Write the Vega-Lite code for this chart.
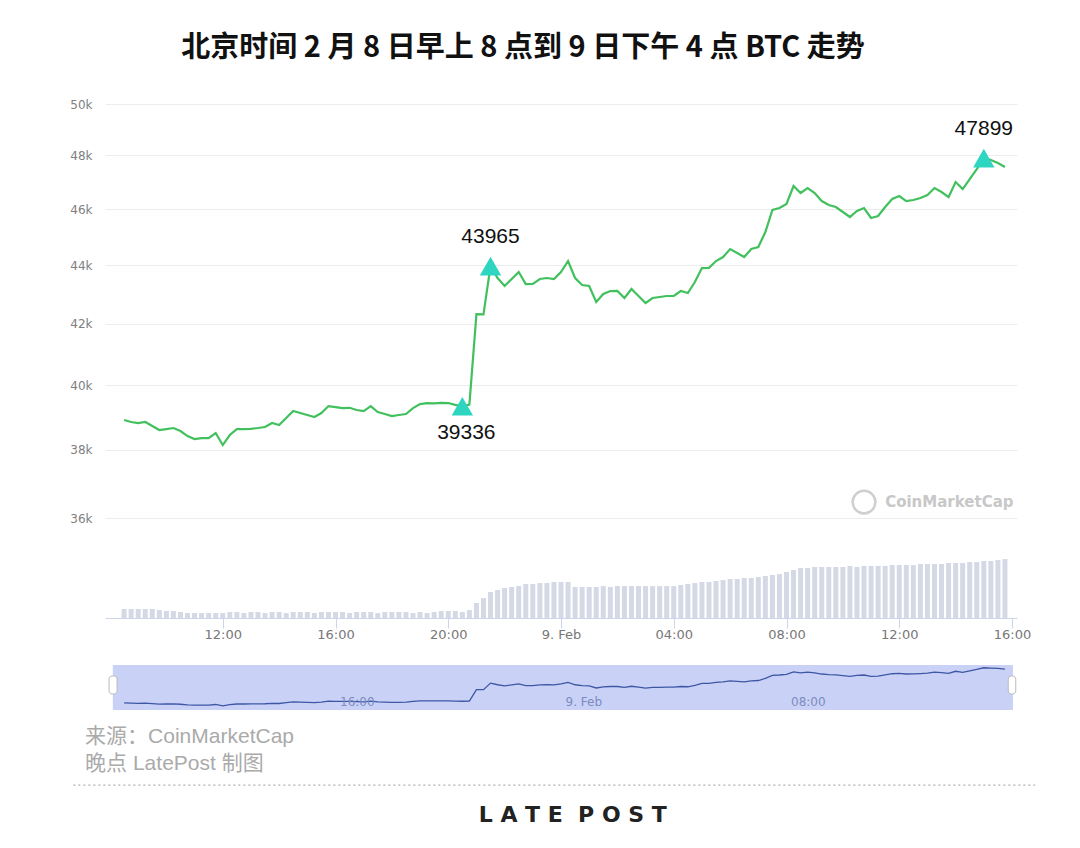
{
  "$schema": "https://vega.github.io/schema/vega-lite/v6.json",
  "width": 1080,
  "height": 848,
  "autosize": {"type": "none"},
  "padding": 0,
  "background": "white",
  "config": {"view": {"stroke": null}},
  "title": {
    "text": "北京时间 2 月 8 日早上 8 点到 9 日下午 4 点 BTC 走势",
    "anchor": "middle",
    "frame": "group",
    "offset": -57,
    "baseline": "alphabetic",
    "dx": -17,
    "dy": 29,
    "fontSize": 29,
    "font": "Noto Sans CJK SC",
    "fontWeight": "bold",
    "color": "#111111"
  },
  "datasets": {
    "btc": [
      {"t": "2021-02-08T08:30", "price": 38910, "volume": 46.0},
      {"t": "2021-02-08T08:45", "price": 38849, "volume": 46.0},
      {"t": "2021-02-08T09:00", "price": 38818, "volume": 46.0},
      {"t": "2021-02-08T09:15", "price": 38849, "volume": 46.0},
      {"t": "2021-02-08T09:30", "price": 38725, "volume": 46.0},
      {"t": "2021-02-08T09:45", "price": 38602, "volume": 45.3},
      {"t": "2021-02-08T10:00", "price": 38633, "volume": 44.7},
      {"t": "2021-02-08T10:15", "price": 38664, "volume": 44.7},
      {"t": "2021-02-08T10:30", "price": 38572, "volume": 44.0},
      {"t": "2021-02-08T10:45", "price": 38419, "volume": 43.3},
      {"t": "2021-02-08T11:00", "price": 38328, "volume": 43.3},
      {"t": "2021-02-08T11:15", "price": 38358, "volume": 43.3},
      {"t": "2021-02-08T11:30", "price": 38358, "volume": 43.3},
      {"t": "2021-02-08T11:45", "price": 38511, "volume": 43.3},
      {"t": "2021-02-08T12:00", "price": 38146, "volume": 43.3},
      {"t": "2021-02-08T12:15", "price": 38450, "volume": 44.0},
      {"t": "2021-02-08T12:30", "price": 38633, "volume": 44.0},
      {"t": "2021-02-08T12:45", "price": 38633, "volume": 43.3},
      {"t": "2021-02-08T13:00", "price": 38640, "volume": 44.0},
      {"t": "2021-02-08T13:15", "price": 38664, "volume": 44.0},
      {"t": "2021-02-08T13:30", "price": 38695, "volume": 43.3},
      {"t": "2021-02-08T13:45", "price": 38818, "volume": 44.0},
      {"t": "2021-02-08T14:00", "price": 38756, "volume": 44.0},
      {"t": "2021-02-08T14:15", "price": 38972, "volume": 43.3},
      {"t": "2021-02-08T14:30", "price": 39189, "volume": 44.0},
      {"t": "2021-02-08T14:45", "price": 39127, "volume": 44.0},
      {"t": "2021-02-08T15:00", "price": 39065, "volume": 44.0},
      {"t": "2021-02-08T15:15", "price": 39003, "volume": 43.3},
      {"t": "2021-02-08T15:30", "price": 39127, "volume": 44.0},
      {"t": "2021-02-08T15:45", "price": 39344, "volume": 44.0},
      {"t": "2021-02-08T16:00", "price": 39313, "volume": 44.0},
      {"t": "2021-02-08T16:15", "price": 39282, "volume": 44.0},
      {"t": "2021-02-08T16:30", "price": 39290, "volume": 43.3},
      {"t": "2021-02-08T16:45", "price": 39220, "volume": 44.0},
      {"t": "2021-02-08T17:00", "price": 39189, "volume": 44.0},
      {"t": "2021-02-08T17:15", "price": 39344, "volume": 44.0},
      {"t": "2021-02-08T17:30", "price": 39158, "volume": 43.3},
      {"t": "2021-02-08T17:45", "price": 39096, "volume": 44.0},
      {"t": "2021-02-08T18:00", "price": 39034, "volume": 44.0},
      {"t": "2021-02-08T18:15", "price": 39065, "volume": 44.0},
      {"t": "2021-02-08T18:30", "price": 39096, "volume": 44.0},
      {"t": "2021-02-08T18:45", "price": 39282, "volume": 43.3},
      {"t": "2021-02-08T19:00", "price": 39407, "volume": 44.0},
      {"t": "2021-02-08T19:15", "price": 39438, "volume": 43.3},
      {"t": "2021-02-08T19:30", "price": 39430, "volume": 44.0},
      {"t": "2021-02-08T19:45", "price": 39445, "volume": 44.7},
      {"t": "2021-02-08T20:00", "price": 39438, "volume": 44.7},
      {"t": "2021-02-08T20:15", "price": 39380, "volume": 44.7},
      {"t": "2021-02-08T20:30", "price": 39336, "volume": 44.0},
      {"t": "2021-02-08T20:45", "price": 39390, "volume": 45.3},
      {"t": "2021-02-08T21:00", "price": 42324, "volume": 50.0},
      {"t": "2021-02-08T21:15", "price": 42310, "volume": 53.3},
      {"t": "2021-02-08T21:30", "price": 43965, "volume": 57.3},
      {"t": "2021-02-08T21:45", "price": 43552, "volume": 58.7},
      {"t": "2021-02-08T22:00", "price": 43276, "volume": 60.0},
      {"t": "2021-02-08T22:15", "price": 43517, "volume": 60.7},
      {"t": "2021-02-08T22:30", "price": 43759, "volume": 61.3},
      {"t": "2021-02-08T22:45", "price": 43344, "volume": 62.7},
      {"t": "2021-02-08T23:00", "price": 43350, "volume": 62.7},
      {"t": "2021-02-08T23:15", "price": 43517, "volume": 63.3},
      {"t": "2021-02-08T23:30", "price": 43552, "volume": 63.3},
      {"t": "2021-02-08T23:45", "price": 43517, "volume": 64.0},
      {"t": "2021-02-09T00:00", "price": 43759, "volume": 64.0},
      {"t": "2021-02-09T00:15", "price": 44143, "volume": 64.0},
      {"t": "2021-02-09T00:30", "price": 43552, "volume": 60.7},
      {"t": "2021-02-09T00:45", "price": 43310, "volume": 60.7},
      {"t": "2021-02-09T01:00", "price": 43276, "volume": 60.7},
      {"t": "2021-02-09T01:15", "price": 42730, "volume": 60.7},
      {"t": "2021-02-09T01:30", "price": 43002, "volume": 61.3},
      {"t": "2021-02-09T01:45", "price": 43104, "volume": 60.7},
      {"t": "2021-02-09T02:00", "price": 43110, "volume": 61.3},
      {"t": "2021-02-09T02:15", "price": 42866, "volume": 61.3},
      {"t": "2021-02-09T02:30", "price": 43173, "volume": 61.3},
      {"t": "2021-02-09T02:45", "price": 42934, "volume": 61.3},
      {"t": "2021-02-09T03:00", "price": 42696, "volume": 61.3},
      {"t": "2021-02-09T03:15", "price": 42866, "volume": 61.3},
      {"t": "2021-02-09T03:30", "price": 42900, "volume": 61.3},
      {"t": "2021-02-09T03:45", "price": 42934, "volume": 61.3},
      {"t": "2021-02-09T04:00", "price": 42940, "volume": 61.3},
      {"t": "2021-02-09T04:15", "price": 43104, "volume": 62.0},
      {"t": "2021-02-09T04:30", "price": 43036, "volume": 62.7},
      {"t": "2021-02-09T04:45", "price": 43413, "volume": 63.3},
      {"t": "2021-02-09T05:00", "price": 43898, "volume": 64.0},
      {"t": "2021-02-09T05:15", "price": 43905, "volume": 64.0},
      {"t": "2021-02-09T05:30", "price": 44143, "volume": 64.7},
      {"t": "2021-02-09T05:45", "price": 44283, "volume": 65.3},
      {"t": "2021-02-09T06:00", "price": 44565, "volume": 66.0},
      {"t": "2021-02-09T06:15", "price": 44424, "volume": 66.0},
      {"t": "2021-02-09T06:30", "price": 44283, "volume": 66.7},
      {"t": "2021-02-09T06:45", "price": 44565, "volume": 66.7},
      {"t": "2021-02-09T07:00", "price": 44636, "volume": 67.3},
      {"t": "2021-02-09T07:15", "price": 45170, "volume": 68.0},
      {"t": "2021-02-09T07:30", "price": 45966, "volume": 68.7},
      {"t": "2021-02-09T07:45", "price": 46039, "volume": 69.3},
      {"t": "2021-02-09T08:00", "price": 46185, "volume": 70.7},
      {"t": "2021-02-09T08:15", "price": 46849, "volume": 72.0},
      {"t": "2021-02-09T08:30", "price": 46590, "volume": 73.3},
      {"t": "2021-02-09T08:45", "price": 46775, "volume": 73.3},
      {"t": "2021-02-09T09:00", "price": 46590, "volume": 74.0},
      {"t": "2021-02-09T09:15", "price": 46295, "volume": 74.0},
      {"t": "2021-02-09T09:30", "price": 46149, "volume": 74.0},
      {"t": "2021-02-09T09:45", "price": 46075, "volume": 74.0},
      {"t": "2021-02-09T10:00", "price": 45894, "volume": 74.0},
      {"t": "2021-02-09T10:15", "price": 45712, "volume": 74.7},
      {"t": "2021-02-09T10:30", "price": 45930, "volume": 74.0},
      {"t": "2021-02-09T10:45", "price": 46039, "volume": 74.7},
      {"t": "2021-02-09T11:00", "price": 45676, "volume": 74.7},
      {"t": "2021-02-09T11:15", "price": 45748, "volume": 74.7},
      {"t": "2021-02-09T11:30", "price": 46075, "volume": 74.7},
      {"t": "2021-02-09T11:45", "price": 46369, "volume": 75.3},
      {"t": "2021-02-09T12:00", "price": 46479, "volume": 75.3},
      {"t": "2021-02-09T12:15", "price": 46295, "volume": 75.3},
      {"t": "2021-02-09T12:30", "price": 46332, "volume": 75.3},
      {"t": "2021-02-09T12:45", "price": 46405, "volume": 76.0},
      {"t": "2021-02-09T13:00", "price": 46516, "volume": 76.0},
      {"t": "2021-02-09T13:15", "price": 46775, "volume": 76.0},
      {"t": "2021-02-09T13:30", "price": 46627, "volume": 76.0},
      {"t": "2021-02-09T13:45", "price": 46442, "volume": 76.7},
      {"t": "2021-02-09T14:00", "price": 46998, "volume": 76.7},
      {"t": "2021-02-09T14:15", "price": 46738, "volume": 76.7},
      {"t": "2021-02-09T14:30", "price": 47110, "volume": 77.3},
      {"t": "2021-02-09T14:45", "price": 47486, "volume": 77.3},
      {"t": "2021-02-09T15:00", "price": 47899, "volume": 78.0},
      {"t": "2021-02-09T15:15", "price": 47827, "volume": 78.0},
      {"t": "2021-02-09T15:30", "price": 47713, "volume": 78.7},
      {"t": "2021-02-09T15:45", "price": 47562, "volume": 79.3}
    ],
    "peaks": [
      {"t": "2021-02-08T20:30", "price": 39336, "pos": "below"},
      {"t": "2021-02-08T21:30", "price": 43965, "pos": "above"},
      {"t": "2021-02-09T15:00", "price": 47899, "pos": "above"}
    ]
  },
  "resolve": {"scale": {"y": "independent"}, "axis": {"x": "independent", "y": "independent"}},
  "layer": [
    {
      "data": {"name": "btc"},
      "mark": {"type": "bar", "size": 5, "color": "#d5d9e6"},
      "encoding": {
        "x": {
          "field": "t", "type": "temporal",
          "scale": {"domain": [{"year": 2021, "month": 2, "date": 8, "hours": 8}, {"year": 2021, "month": 2, "date": 9, "hours": 16}], "range": [105, 1017], "nice": false},
          "axis": {
            "orient": "bottom", "offset": -230, "title": null, "grid": false,
            "values": [
              {"year": 2021, "month": 2, "date": 8, "hours": 12},
              {"year": 2021, "month": 2, "date": 8, "hours": 16},
              {"year": 2021, "month": 2, "date": 8, "hours": 20},
              {"year": 2021, "month": 2, "date": 9, "hours": 0},
              {"year": 2021, "month": 2, "date": 9, "hours": 4},
              {"year": 2021, "month": 2, "date": 9, "hours": 8},
              {"year": 2021, "month": 2, "date": 9, "hours": 12},
              {"year": 2021, "month": 2, "date": 9, "hours": 16}
            ],
            "labelExpr": "hours(datum.value) == 0 ? '9. Feb' : timeFormat(datum.value, '%H:%M')",
            "tickSize": 10, "tickColor": "#ccd6eb", "domainColor": "#ccd6eb",
            "labelColor": "#777777", "labelFontSize": 13, "labelFont": "DejaVu Sans",
            "labelPadding": 0, "labelFlush": false, "labelOverlap": false
          }
        },
        "y": {"field": "volume", "type": "quantitative", "scale": {"domain": [40, 100], "range": [618, 528], "zero": false, "nice": false}, "axis": null},
        "y2": {"datum": 40}
      }
    },
    {
      "data": {"name": "btc"},
      "mark": {"type": "line", "color": "#41c05d", "strokeWidth": 2.2},
      "encoding": {
        "x": {"field": "t", "type": "temporal", "axis": null},
        "y": {
          "field": "price", "type": "quantitative",
          "scale": {"type": "log", "domain": [36000, 50000], "range": [518, 104], "nice": false, "zero": false},
          "axis": {
            "orient": "left", "offset": -100, "title": null,
            "values": [36000, 38000, 40000, 42000, 44000, 46000, 48000, 50000],
            "labelExpr": "(datum.value / 1000) + 'k'",
            "ticks": false, "domain": false, "labelPadding": 8,
            "grid": true, "gridColor": "#ececec",
            "labelColor": "#808080", "labelFontSize": 12, "labelFont": "DejaVu Sans"
          }
        }
      }
    },
    {
      "data": {"name": "peaks"},
      "mark": {"type": "point", "shape": "triangle-up", "filled": true, "size": 460, "color": "#2ed6c1", "opacity": 1},
      "encoding": {
        "x": {"field": "t", "type": "temporal", "axis": null},
        "y": {"field": "price", "type": "quantitative", "scale": {"type": "log", "domain": [36000, 50000], "range": [518, 104], "nice": false, "zero": false}, "axis": null}
      }
    },
    {
      "data": {"name": "peaks"},
      "transform": [{"filter": "datum.pos == 'above'"}],
      "mark": {"type": "text", "dy": -29, "fontSize": 21, "font": "Liberation Sans", "color": "#111111"},
      "encoding": {
        "x": {"field": "t", "type": "temporal", "axis": null},
        "y": {"field": "price", "type": "quantitative", "scale": {"type": "log", "domain": [36000, 50000], "range": [518, 104], "nice": false, "zero": false}, "axis": null},
        "text": {"field": "price", "type": "quantitative", "format": "d"}
      }
    },
    {
      "data": {"name": "peaks"},
      "transform": [{"filter": "datum.pos == 'below'"}],
      "mark": {"type": "text", "dy": 27, "dx": 4, "fontSize": 21, "font": "Liberation Sans", "color": "#111111"},
      "encoding": {
        "x": {"field": "t", "type": "temporal", "axis": null},
        "y": {"field": "price", "type": "quantitative", "scale": {"type": "log", "domain": [36000, 50000], "range": [518, 104], "nice": false, "zero": false}, "axis": null},
        "text": {"field": "price", "type": "quantitative", "format": "d"}
      }
    },
    {
      "data": {"values": [{}]},
      "mark": {"type": "point", "shape": "circle", "filled": false, "size": 520, "strokeWidth": 2.5, "color": "#cfcfcf", "opacity": 1},
      "encoding": {
        "x": {"datum": {"year": 2021, "month": 2, "date": 9, "hours": 10, "minutes": 45}, "type": "temporal", "axis": null},
        "y": {"datum": 36457, "type": "quantitative", "scale": {"type": "log", "domain": [36000, 50000], "range": [518, 104], "nice": false, "zero": false}, "axis": null}
      }
    },
    {
      "data": {"values": [{}]},
      "mark": {"type": "text", "text": "CoinMarketCap", "align": "left", "baseline": "middle", "fontSize": 15, "fontWeight": "bold", "font": "DejaVu Sans", "color": "#c8c8c8"},
      "encoding": {
        "x": {"datum": {"year": 2021, "month": 2, "date": 9, "hours": 11, "minutes": 30}, "type": "temporal", "axis": null},
        "y": {"datum": 36457, "type": "quantitative", "scale": {"type": "log", "domain": [36000, 50000], "range": [518, 104], "nice": false, "zero": false}, "axis": null}
      }
    },
    {
      "data": {"values": [{}]},
      "mark": {"type": "rect", "color": "#c9d2f6"},
      "encoding": {
        "x": {"datum": {"year": 2021, "month": 2, "date": 8, "hours": 8, "minutes": 6}, "type": "temporal", "axis": null},
        "x2": {"datum": {"year": 2021, "month": 2, "date": 9, "hours": 16, "minutes": 2}},
        "y": {"datum": 37100, "type": "quantitative", "scale": {"domain": [37100, 48600], "range": [710, 665], "zero": false, "nice": false}, "axis": null},
        "y2": {"datum": 48600}
      }
    },
    {
      "data": {"name": "btc"},
      "mark": {"type": "line", "color": "#3e56a6", "strokeWidth": 1.3},
      "encoding": {
        "x": {
          "field": "t", "type": "temporal",
          "axis": {
            "orient": "bottom", "offset": -153, "title": null, "zindex": 1,
            "values": [
              {"year": 2021, "month": 2, "date": 8, "hours": 16},
              {"year": 2021, "month": 2, "date": 9, "hours": 0},
              {"year": 2021, "month": 2, "date": 9, "hours": 8}
            ],
            "labelExpr": "hours(datum.value) == 0 ? '9. Feb' : timeFormat(datum.value, '%H:%M')",
            "ticks": false, "domain": false, "labelAlign": "left", "labelOffset": 4,
            "labelPadding": 1, "labelBaseline": "top", "labelColor": "#7d8bc0",
            "labelFontSize": 12, "labelFont": "DejaVu Sans", "labelFlush": false, "labelOverlap": false,
            "grid": false
          }
        },
        "y": {"field": "price", "type": "quantitative", "scale": {"domain": [37100, 48600], "range": [710, 665], "zero": false, "nice": false}, "axis": null}
      }
    },
    {
      "data": {"values": [{}]},
      "mark": {"type": "rect", "color": "white", "stroke": "#bbbbbb", "strokeWidth": 1, "cornerRadius": 3},
      "encoding": {
        "x": {"datum": {"year": 2021, "month": 2, "date": 8, "hours": 7, "minutes": 58}, "type": "temporal", "axis": null},
        "x2": {"datum": {"year": 2021, "month": 2, "date": 8, "hours": 8, "minutes": 15}},
        "y": {"datum": 41190, "type": "quantitative", "scale": {"domain": [37100, 48600], "range": [710, 665], "zero": false, "nice": false}, "axis": null},
        "y2": {"datum": 45790}
      }
    },
    {
      "data": {"values": [{}]},
      "mark": {"type": "rect", "color": "white", "stroke": "#bbbbbb", "strokeWidth": 1, "cornerRadius": 3},
      "encoding": {
        "x": {"datum": {"year": 2021, "month": 2, "date": 9, "hours": 15, "minutes": 52}, "type": "temporal", "axis": null},
        "x2": {"datum": {"year": 2021, "month": 2, "date": 9, "hours": 16, "minutes": 8}},
        "y": {"datum": 41190, "type": "quantitative", "scale": {"domain": [37100, 48600], "range": [710, 665], "zero": false, "nice": false}, "axis": null},
        "y2": {"datum": 45790}
      }
    },
    {
      "data": {"values": [{}]},
      "mark": {"type": "text", "text": "来源：CoinMarketCap", "align": "left", "baseline": "middle", "fontSize": 21, "font": "Liberation Sans, Noto Sans CJK SC", "color": "#aaaaaa"},
      "encoding": {
        "x": {"datum": {"year": 2021, "month": 2, "date": 8, "hours": 7, "minutes": 7}, "type": "temporal", "axis": null},
        "y": {"datum": 1, "type": "quantitative", "scale": {"domain": [1, 4], "range": [737, 815], "zero": false, "nice": false}, "axis": null}
      }
    },
    {
      "data": {"values": [{}]},
      "mark": {"type": "text", "text": "晚点 LatePost 制图", "align": "left", "baseline": "middle", "fontSize": 21, "font": "Liberation Sans, Noto Sans CJK SC", "color": "#aaaaaa"},
      "encoding": {
        "x": {"datum": {"year": 2021, "month": 2, "date": 8, "hours": 7, "minutes": 7}, "type": "temporal", "axis": null},
        "y": {"datum": 2.04, "type": "quantitative", "scale": {"domain": [1, 4], "range": [737, 815], "zero": false, "nice": false}, "axis": null}
      }
    },
    {
      "data": {"values": [{}]},
      "mark": {"type": "rule", "color": "#9a9a9a", "strokeWidth": 1, "strokeDash": [2, 3]},
      "encoding": {
        "x": {"datum": {"year": 2021, "month": 2, "date": 8, "hours": 6, "minutes": 42}, "type": "temporal", "axis": null},
        "x2": {"datum": {"year": 2021, "month": 2, "date": 9, "hours": 16, "minutes": 49}},
        "y": {"datum": 2.85, "type": "quantitative", "scale": {"domain": [1, 4], "range": [737, 815], "zero": false, "nice": false}, "axis": null}
      }
    },
    {
      "data": {"values": [{}]},
      "mark": {"type": "text", "text": "L A T E\u00a0 P O S T", "align": "center", "baseline": "middle", "fontSize": 22, "fontWeight": "bold", "font": "DejaVu Sans", "color": "#222222"},
      "encoding": {
        "x": {"datum": {"year": 2021, "month": 2, "date": 9, "hours": 0, "minutes": 25}, "type": "temporal", "axis": null},
        "y": {"datum": 4, "type": "quantitative", "scale": {"domain": [1, 4], "range": [737, 815], "zero": false, "nice": false}, "axis": null}
      }
    }
  ]
}
